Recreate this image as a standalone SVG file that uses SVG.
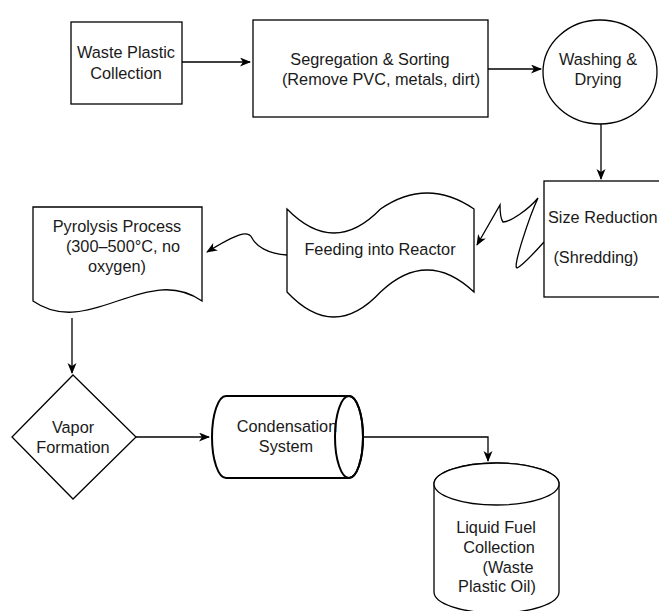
<svg xmlns="http://www.w3.org/2000/svg" width="659" height="611" viewBox="0 0 659 611">
<defs>
<style>
.s{fill:#fff;stroke:#000;stroke-width:1.3}
.t{font-family:"Liberation Sans",Arial,sans-serif;font-size:16.3px;fill:#1a1a1a;text-anchor:middle}
.c{fill:none;stroke:#000;stroke-width:1.3}
</style>
<marker id="ah" markerUnits="userSpaceOnUse" markerWidth="12" markerHeight="10" refX="10" refY="4.5" orient="auto">
<path d="M0,0 L11,4.5 L0,9 L3,4.5 Z" fill="#000"/>
</marker>
</defs>
<rect width="659" height="611" fill="#fff"/>
<g id="connectors">
<path class="c" d="M182,62 H250" marker-end="url(#ah)"/>
<path class="c" d="M488,69 H541" marker-end="url(#ah)"/>
<path class="c" d="M601,124 V179" marker-end="url(#ah)"/>
<path class="c" d="M544,242 C535,252 522,266 517,268 C512,268 530,215 538,198 C528,210 510,222 503,222 C500,218 500,210 500,205 L477,245" marker-end="url(#ah)"/>
<path class="c" d="M287,255 C268,254 256,246 252,238 C248,230 238,233 207,252" marker-end="url(#ah)"/>
<path class="c" d="M72,318 V373" marker-end="url(#ah)"/>
<path class="c" d="M136,437 H209" marker-end="url(#ah)"/>
<path class="c" d="M363,437 H488 V461" marker-end="url(#ah)"/>
</g>
<g id="n1">
<rect class="s" x="71" y="22" width="111" height="82"/>
<text class="t" x="126" y="58">Waste Plastic</text>
<text class="t" x="126" y="79">Collection</text>
</g>
<g id="n2">
<rect class="s" x="253" y="20" width="235" height="97"/>
<text class="t" x="370" y="65">Segregation &amp; Sorting</text>
<text class="t" x="381" y="85">(Remove PVC, metals, dirt)</text>
</g>
<g id="n3">
<ellipse class="s" cx="600" cy="72" rx="57" ry="52"/>
<text class="t" x="598" y="65">Washing &amp;</text>
<text class="t" x="598" y="85">Drying</text>
</g>
<g id="n4">
<rect class="s" x="544" y="181" width="130" height="116"/>
<text class="t" x="548" y="223" style="text-anchor:start">Size Reduction</text>
<text class="t" x="596" y="263">(Shredding)</text>
</g>
<g id="n5">
<path class="s" d="M287,209 Q334,257 380.5,209 Q427,177 474,209 L474,292 Q427,248 380.5,292 Q334,342 287,292 Z"/>
<text class="t" x="380" y="255">Feeding into Reactor</text>
</g>
<g id="n6">
<path class="s" d="M33,207 H202 V301 C146,262 89,340 33,301 Z"/>
<text class="t" x="117" y="232">Pyrolysis Process</text>
<text class="t" x="123" y="252">(300–500°C, no</text>
<text class="t" x="117" y="272">oxygen)</text>
</g>
<g id="n7">
<path class="s" d="M73,375 L136,437 L73,499 L12,437 Z"/>
<text class="t" x="73" y="433">Vapor</text>
<text class="t" x="73" y="453">Formation</text>
</g>
<g id="n8">
<path class="s" style="stroke-width:2" d="M226,396 H349 A14,41 0 0 1 349,478 H226 A14,41 0 0 1 226,396 Z"/>
<text class="t" x="287" y="432">Condensation</text>
<text class="t" x="286" y="452">System</text>
<ellipse cx="349" cy="437" rx="14" ry="41" fill="none" stroke="#000" stroke-width="2"/>
</g>
<g id="n9">
<path class="s" d="M434,484 V592 A62.5,21 0 0 0 559,592 V484 A62.5,21 0 0 0 434,484 Z"/>
<ellipse class="s" cx="496.5" cy="484" rx="62.5" ry="21"/>
<text class="t" x="496" y="533">Liquid Fuel</text>
<text class="t" x="499" y="553">Collection</text>
<text class="t" x="508" y="573">(Waste</text>
<text class="t" x="497" y="592">Plastic Oil)</text>
</g>
</svg>
